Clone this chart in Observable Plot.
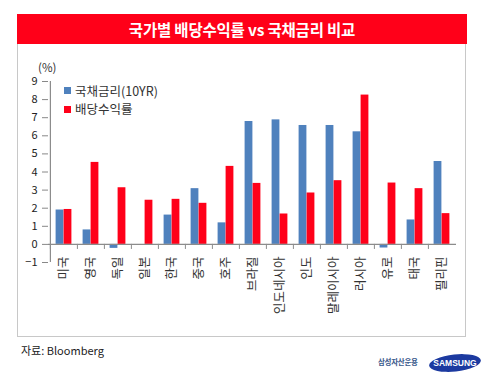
<!DOCTYPE html>
<html><head><meta charset="utf-8">
<script src="https://cdn.jsdelivr.net/npm/d3@7"></script>
<script src="https://cdn.jsdelivr.net/npm/@observablehq/plot@0.6"></script>
<style>
body{margin:0;background:#fff;font-family:"Noto Sans CJK KR","Noto Sans",sans-serif;}
#wrap{position:relative;width:490px;height:387px;overflow:hidden;background:#fff;}
#title{position:absolute;left:17px;top:14px;width:450px;height:30px;background:#ff0019;color:#fff;font-weight:bold;font-size:15.5px;line-height:30px;text-align:center;letter-spacing:-0.2px;}
#box{position:absolute;left:17px;top:44px;width:447px;height:292px;border:1.5px solid #c8c8c8;border-top:none;}
#chart{position:absolute;left:0;top:44px;}
.lg{position:absolute;font-size:12.5px;color:#333;line-height:18px;height:18px;white-space:nowrap;}
.sw{position:absolute;width:7px;height:7px;}
#unit{position:absolute;left:38px;top:60px;font-size:11.5px;line-height:14px;color:#333;}
#src{position:absolute;left:21px;top:342px;font-size:11px;color:#222;}
#co{position:absolute;left:378px;top:356px;font-size:7.5px;font-weight:bold;color:#3b5a8c;letter-spacing:-0.3px;}
#logo{position:absolute;left:428px;top:352px;}
</style>
</head><body>
<div id="wrap">
  <div id="title">국가별 배당수익률 vs 국채금리 비교</div>
  <div id="box"></div>
  <div id="chart"></div>
  <div id="unit">(%)</div>
  <div class="sw" style="left:64px;top:87px;background:#4f81bd"></div>
  <div class="lg" style="left:75px;top:81.5px">국채금리(10YR)</div>
  <div class="sw" style="left:64px;top:105.5px;background:#ff0019"></div>
  <div class="lg" style="left:75px;top:100px">배당수익률</div>
  <div id="src">자료: Bloomberg</div>
  <div id="co">삼성자산운용</div>
  <svg id="logo" width="54" height="22" viewBox="0 0 54 22">
    <ellipse cx="27" cy="11" rx="26" ry="8.5" transform="rotate(-6 27 11)" fill="#1c3aa0"/>
    <text x="27" y="14" text-anchor="middle" fill="#fff" font-size="8.5" font-weight="bold" font-family="Liberation Sans, sans-serif">SAMSUNG</text>
  </svg>
</div>
<script>
const countries = ["미국","영국","독일","일본","한국","중국","호주","브라질","인도네시아","인도","말레이시아","러시아","유로","태국","필리핀"];
const bondYield = [1.9, 0.8, -0.22, 0, 1.62, 3.08, 1.19, 6.79, 6.88, 6.57, 6.57, 6.22, -0.2, 1.35, 4.58];
const dividendYield = [1.93, 4.53, 3.13, 2.44, 2.49, 2.27, 4.31, 3.37, 1.68, 2.84, 3.52, 8.25, 3.39, 3.08, 1.70];
const yTicks = [-1, 0, 1, 2, 3, 4, 5, 6, 7, 8, 9];

const rows = countries.map((c, i) => ({country: c, bond: bondYield[i], div: dividendYield[i]}));
const band = (490 - 48 - 34) / countries.length;

const chart = Plot.plot({
  width: 490,
  height: 293,
  marginTop: 37,
  marginBottom: 75,
  marginLeft: 48,
  marginRight: 34,
  style: {background: "transparent", fontFamily: "'Noto Sans CJK KR', sans-serif"},
  x: {domain: countries, padding: 0, axis: null},
  y: {domain: [-1, 9], axis: null},
  marks: [
    Plot.axisY({ticks: yTicks, tickSize: 6, tickPadding: 5, fontSize: 11, color: "#222", stroke: "#888"}),
    Plot.barY(rows, {x: "country", y: "bond", fill: "#4f81bd", insetLeft: band/2 - 8, insetRight: band/2}),
    Plot.barY(rows, {x: "country", y: "div", fill: "#ff0019", insetLeft: band/2, insetRight: band/2 - 8}),
    Plot.ruleY([0], {stroke: "#8c8c8c", strokeWidth: 1.2}),
    Plot.ruleX(countries, {x: d => d, dx: -band/2, y1: 0, y2: -0.28, stroke: "#8c8c8c"}),
    Plot.ruleX([countries[0]], {x: d => d, dx: -band/2, y1: -1, y2: 9, stroke: "#8c8c8c", strokeWidth: 1.2}),
    Plot.text(countries, {x: d => d, frameAnchor: "bottom", text: d => d, rotate: -90, textAnchor: "end", lineAnchor: "middle", dy: -6, fontSize: 12.5, fill: "#333"})
  ]
});
document.getElementById("chart").appendChild(chart);
</script>
</body></html>
